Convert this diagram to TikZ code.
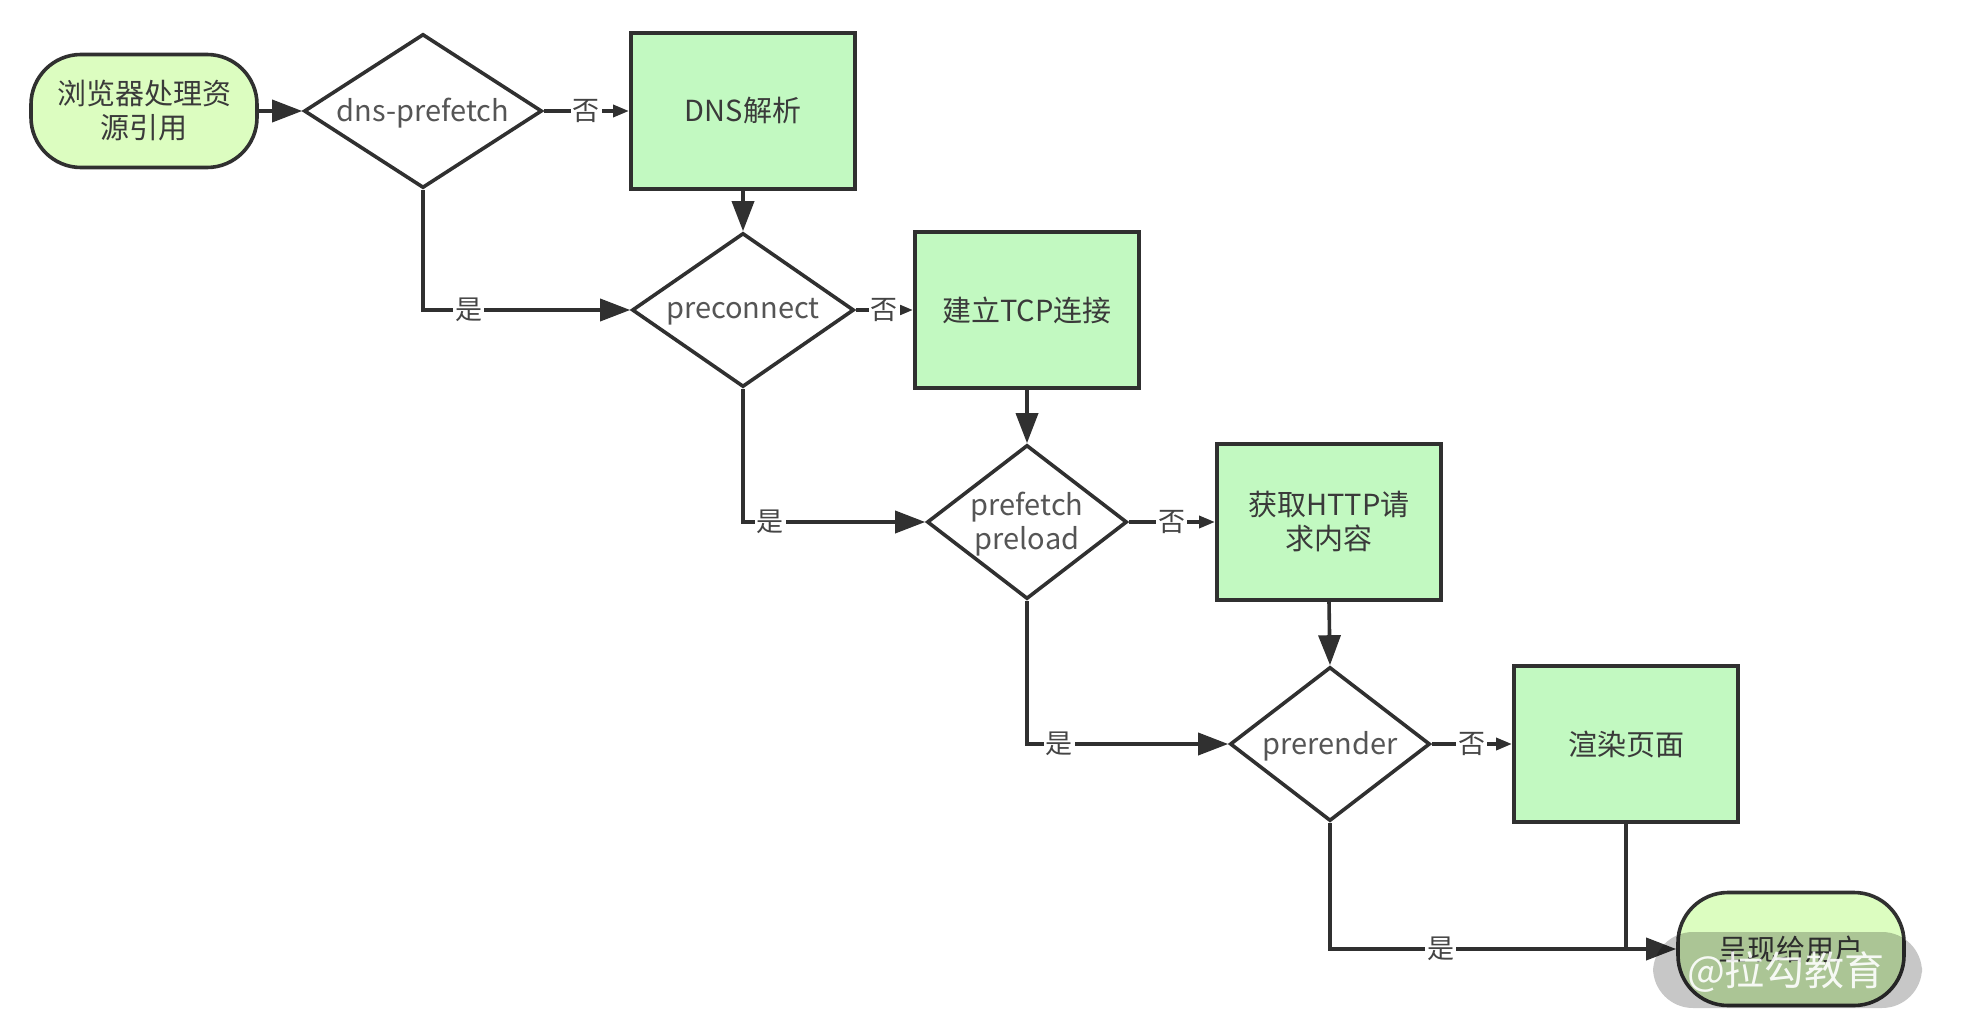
\documentclass[tikz,border=0pt]{standalone}
\usepackage{fontspec}
\setmainfont{Noto Sans CJK SC}
\usetikzlibrary{shapes.geometric,arrows.meta}
\definecolor{lineC}{HTML}{303030}
\definecolor{boxG}{HTML}{C2F9C1}
\definecolor{termG}{HTML}{DCFDC0}
\definecolor{txtC}{HTML}{3A3A3A}
\definecolor{decC}{HTML}{555555}
\definecolor{labC}{HTML}{444444}
\begin{document}
\begin{tikzpicture}[x=0.5pt,y=-0.5pt,
  ln/.style={draw=lineC, line width=1.8pt},
  bigarrow/.style={ln, -{Triangle[length=15pt,width=11pt]}},
  smallarrow/.style={ln, -{Triangle[length=8pt,width=6pt]}},
  yn/.style={fill=white, inner sep=1pt, text=labC, font=\fontsize{13.5}{13.5}\selectfont},
  term/.style={draw=lineC, line width=1.8pt, fill=termG, rounded corners=25pt,
    minimum width=113pt, minimum height=56.5pt, inner sep=0pt, align=center,
    text=txtC, font=\fontsize{14.5}{17}\selectfont},
  proc/.style={draw=lineC, line width=2pt, fill=boxG, minimum width=112pt,
    minimum height=78pt, inner sep=0pt, align=center, text=txtC,
    font=\fontsize{14.5}{17}\selectfont},
  dec/.style={diamond, draw=lineC, line width=1.8pt, fill=white, inner sep=0pt,
    minimum height=77pt},
  dtext/.style={align=center, text=decC, inner sep=0pt, yshift=-1pt,
    font=\fontsize{14.5}{17}\selectfont}
]
\useasboundingbox (0,0) rectangle (1964,1032);

% nodes
\node[term] (start) at (144,111) {浏览器处理资\\源引用};
\node[dec, minimum width=119pt] (d1) at (423,111) {};
\node[dtext] (d1t) at (d1) {dns-prefetch};
\node[proc] (b1) at (743,111) {DNS解析};

\node[dec, minimum width=111pt] (d2) at (743,310) {};
\node[dtext] (d2t) at (d2) {preconnect};
\node[proc] (b2) at (1027,310) {建立TCP连接};

\node[dec, minimum width=100pt] (d3) at (1027,522) {};
\node[dtext] (d3t) at (d3) {prefetch\\preload};
\node[proc] (b3) at (1329,522) {获取HTTP请\\求内容};

\node[dec, minimum width=100pt] (d4) at (1330,744) {};
\node[dtext] (d4t) at (d4) {prerender};
\node[proc] (b4) at (1626,744) {渲染页面};

\node[term] (end) at (1791,949) {呈现给用户};

% connectors
\draw[bigarrow] (start) -- (d1);
\draw[smallarrow] (d1.east) -- node[yn] (n1) {否} (b1.west);
\draw[bigarrow] (d1.south) |- node[yn,pos=0.61] (y1) {是} (d2.west);
\draw[bigarrow] (b1.south) -- (d2.north);

\draw[smallarrow] (d2.east) -- node[yn] (n2) {否} (b2.west);
\draw[bigarrow] (d2.south) |- node[yn,pos=0.575] (y2) {是} (d3.west);
\draw[bigarrow] (b2.south) -- (d3.north);

\draw[smallarrow] (d3.east) -- node[yn] (n3) {否} (b3.west);
\draw[bigarrow] (d3.south) |- node[yn,pos=0.58] (y3) {是} (d4.west);
\draw[bigarrow] (b3.south) -- (d4.north);

\draw[smallarrow] (d4.east) -- node[yn] (n4) {否} (b4.west);
\draw[bigarrow] (d4.south) |- node[yn,pos=0.66] (y4) {是} (end.west);
\coordinate (j) at (b4.south |- end.west);
\draw[ln] (b4.south) -- (j);

% watermark
\fill[black, opacity=0.22, rounded corners=20pt] (1653,932) rectangle (1922,1008);
\node[text=white, opacity=0.9, font=\fontsize{20}{20}\selectfont] (wm) at (1786,972) {@拉勾教育};
\end{tikzpicture}
\end{document}
